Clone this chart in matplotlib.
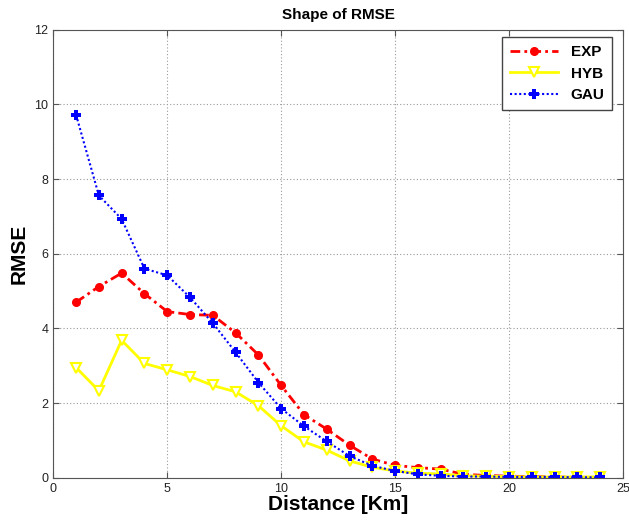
import matplotlib
matplotlib.use("Agg")
import matplotlib.pyplot as plt

plt.rcParams['font.family'] = ['Liberation Sans', 'DejaVu Sans']

distance = list(range(1, 25))
exp_rmse = [4.70, 5.12, 5.48, 4.93, 4.45, 4.37, 4.35, 3.88, 3.29, 2.47, 1.69, 1.30,
            0.87, 0.50, 0.33, 0.27, 0.23, 0.09, 0.06, 0.04, 0.03, 0.02, 0.01, 0.01]
hyb_rmse = [2.95, 2.33, 3.68, 3.06, 2.89, 2.71, 2.47, 2.30, 1.93, 1.39, 0.96, 0.74,
            0.45, 0.28, 0.18, 0.12, 0.10, 0.05, 0.04, 0.03, 0.02, 0.02, 0.02, 0.02]
gau_rmse = [9.72, 7.56, 6.93, 5.60, 5.42, 4.83, 4.14, 3.36, 2.55, 1.85, 1.38, 0.97,
            0.58, 0.32, 0.18, 0.09, 0.05, 0.03, 0.03, 0.02, 0.02, 0.02, 0.01, 0.01]

fig = plt.figure(figsize=(6.29, 5.25), dpi=100)
ax = fig.add_axes([0.0847, 0.0901, 0.9058, 0.8533])

ax.plot(distance, exp_rmse, color='red', linestyle=(0, (3.5, 1.5, 1, 1.5)),
        linewidth=2.0, marker='o', markersize=5.5, label='EXP')
ax.plot(distance, hyb_rmse, color='yellow', linestyle='-', linewidth=2.0,
        marker='v', markersize=6.5, markerfacecolor='white', markeredgecolor='yellow',
        markeredgewidth=1.5, label='HYB')
ax.plot(distance, gau_rmse, color='blue', linestyle=(0, (1, 1.2)), linewidth=1.5,
        marker='P', markersize=6.5, markeredgewidth=0, label='GAU')

ax.set_xlim(0, 25)
ax.set_ylim(0, 12)
ax.set_xticks(range(0, 26, 5))
ax.set_yticks(range(0, 13, 2))
ax.grid(True, linestyle=(0, (1, 2)), color='#999999', linewidth=0.8)
ax.tick_params(direction='in', top=True, right=True, labelsize=9, length=4,
               color='#555555', labelcolor='#222222')
for sp in ax.spines.values():
    sp.set_color('#555555')

ax.set_title('Shape of RMSE', fontsize=11, fontweight='bold', pad=8)
ax.set_xlabel('Distance [Km]', fontsize=15, fontweight='bold', labelpad=0)
ax.set_ylabel('RMSE', fontsize=15, fontweight='bold', labelpad=4)

leg = ax.legend(loc='upper right', fontsize=11, fancybox=False, framealpha=1,
                edgecolor='#444444', borderpad=0.5, handlelength=3.2,
                borderaxespad=0, bbox_to_anchor=(0.981, 0.983))
for t in leg.get_texts():
    t.set_fontweight('bold')

fig.savefig('out.png', dpi=100)
